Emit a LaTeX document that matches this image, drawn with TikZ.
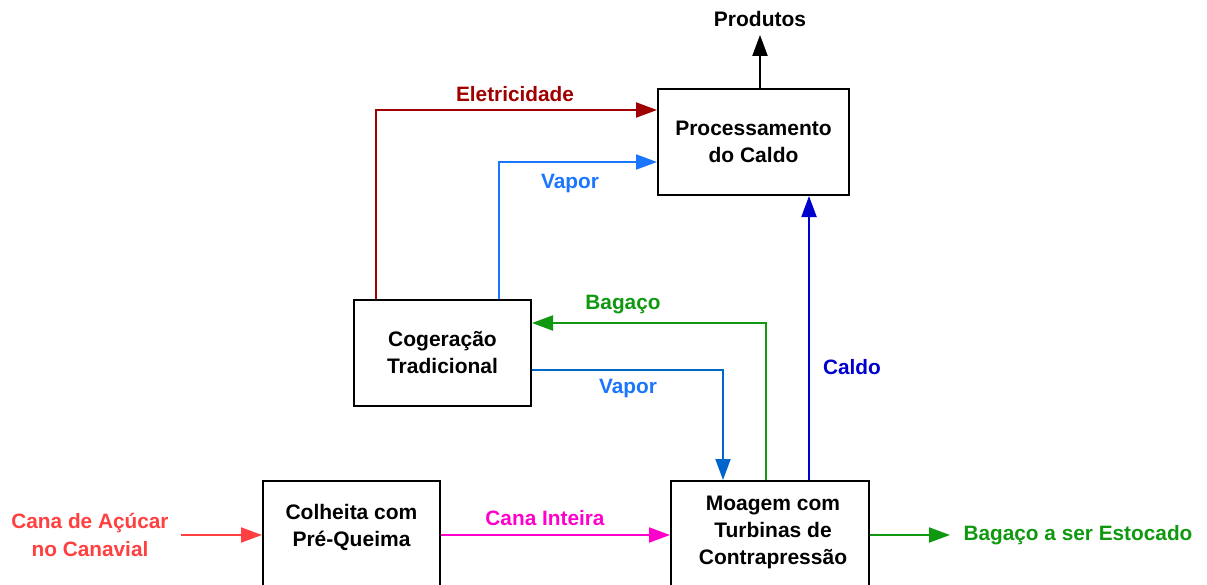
\documentclass[tikz,border=0pt]{standalone}
\usepackage{fontspec}
\setmainfont{Liberation Sans}
\usetikzlibrary{arrows.meta}
\definecolor{celec}{HTML}{A00000}
\definecolor{cvap}{HTML}{1A75FF}
\definecolor{cvapd}{HTML}{0066CC}
\definecolor{cbag}{HTML}{109910}
\definecolor{ccal}{HTML}{0000CC}
\definecolor{ccana}{HTML}{FF4040}
\definecolor{cmag}{HTML}{FF00CC}
\tikzset{
  box/.style={draw=black, line width=2pt, fill=white, inner sep=0pt, align=center,
    font=\fontsize{21}{27}\selectfont\bfseries},
  btext/.style={inner sep=0pt, align=center, font=\fontsize{21}{27}\selectfont\bfseries},
  lbl/.style={inner sep=0pt, align=center, font=\fontsize{20.8}{28}\selectfont\bfseries},
  flow/.style={line width=2pt, -{Triangle[length=21pt,width=15pt]}},
  plain/.style={line width=2pt},
}
\begin{document}
\begin{tikzpicture}[x=1pt,y=-1pt]
\useasboundingbox (0,0) rectangle (1207,584);
\clip (0,0) rectangle (1207,584);
% boxes
\node[box, minimum width=191pt, minimum height=106pt] (proc) at (753.5,142) {Processamento\\do Caldo};
\node[box, minimum width=177pt, minimum height=106pt] (cog) at (442.5,353) {Cogera\c{c}\~ao\\Tradicional};
\node[box, minimum width=177pt, minimum height=140pt] (colh) at (351.5,551) {};
\node[btext] (colht) at (351.5,527.5) {Colheita com\\Pr\'e-Queima};
\node[box, minimum width=198pt, minimum height=140pt] (moag) at (770,551) {};
\node[btext] (moagt) at (773,532) {Moagem com\\Turbinas de\\Contrapress\~ao};
% labels
\node[btext] (prod) at (760,19) {Produtos};
\node[lbl, text=celec] (lelec) at (515,94) {Eletricidade};
\node[lbl, text=cvap] (lvap1) at (570,183) {Vapor};
\node[lbl, text=cbag] (lbag) at (623,305) {Baga\c{c}o};
\node[lbl, text=cvap] (lvap2) at (628,388) {Vapor};
\node[lbl, text=ccal] (lcal) at (852,367) {Caldo};
\node[lbl, text=ccana] (lcana) at (90,535) {Cana de A\c{c}\'ucar\\no Canavial};
\node[lbl, text=cmag] (lint) at (545,518) {Cana Inteira};
\node[lbl, text=cbag] (lest) at (1078,535) {Baga\c{c}o a ser Estocado};
% connectors
\coordinate (pa) at ([xshift=6.5pt]proc.north);
\coordinate (pb) at ([yshift=-8pt]prod.south);
\draw[flow, black] (pa) -- (pa |- pb);
\draw[flow, celec] ([xshift=23pt]cog.north west) |- ([yshift=-22pt]proc.north west);
\draw[flow, cvap] ([xshift=146pt]cog.north west) |- ([yshift=-74pt]proc.north west);
\draw[flow, cbag] ([xshift=96pt]moag.north west) |- ([yshift=-24pt]cog.north east);
\draw[flow, cvapd] ([yshift=-71pt]cog.north east) -| ([xshift=53pt]moag.north west);
\coordinate (cb) at ([xshift=139pt]moag.north west);
\draw[flow, ccal] (cb) -- (cb |- proc.south);
\coordinate (ca) at (181,535);
\draw[flow, ccana] (ca) -- (ca -| colh.west);
\coordinate (ci) at (colh.east |- 0,535);
\draw[flow, cmag] (ci) -- (ci -| moag.west);
\coordinate (me) at (moag.east |- 0,535);
\coordinate (mt) at (950,535);
\draw[flow, cbag] (me) -- (mt);
\end{tikzpicture}
\end{document}
